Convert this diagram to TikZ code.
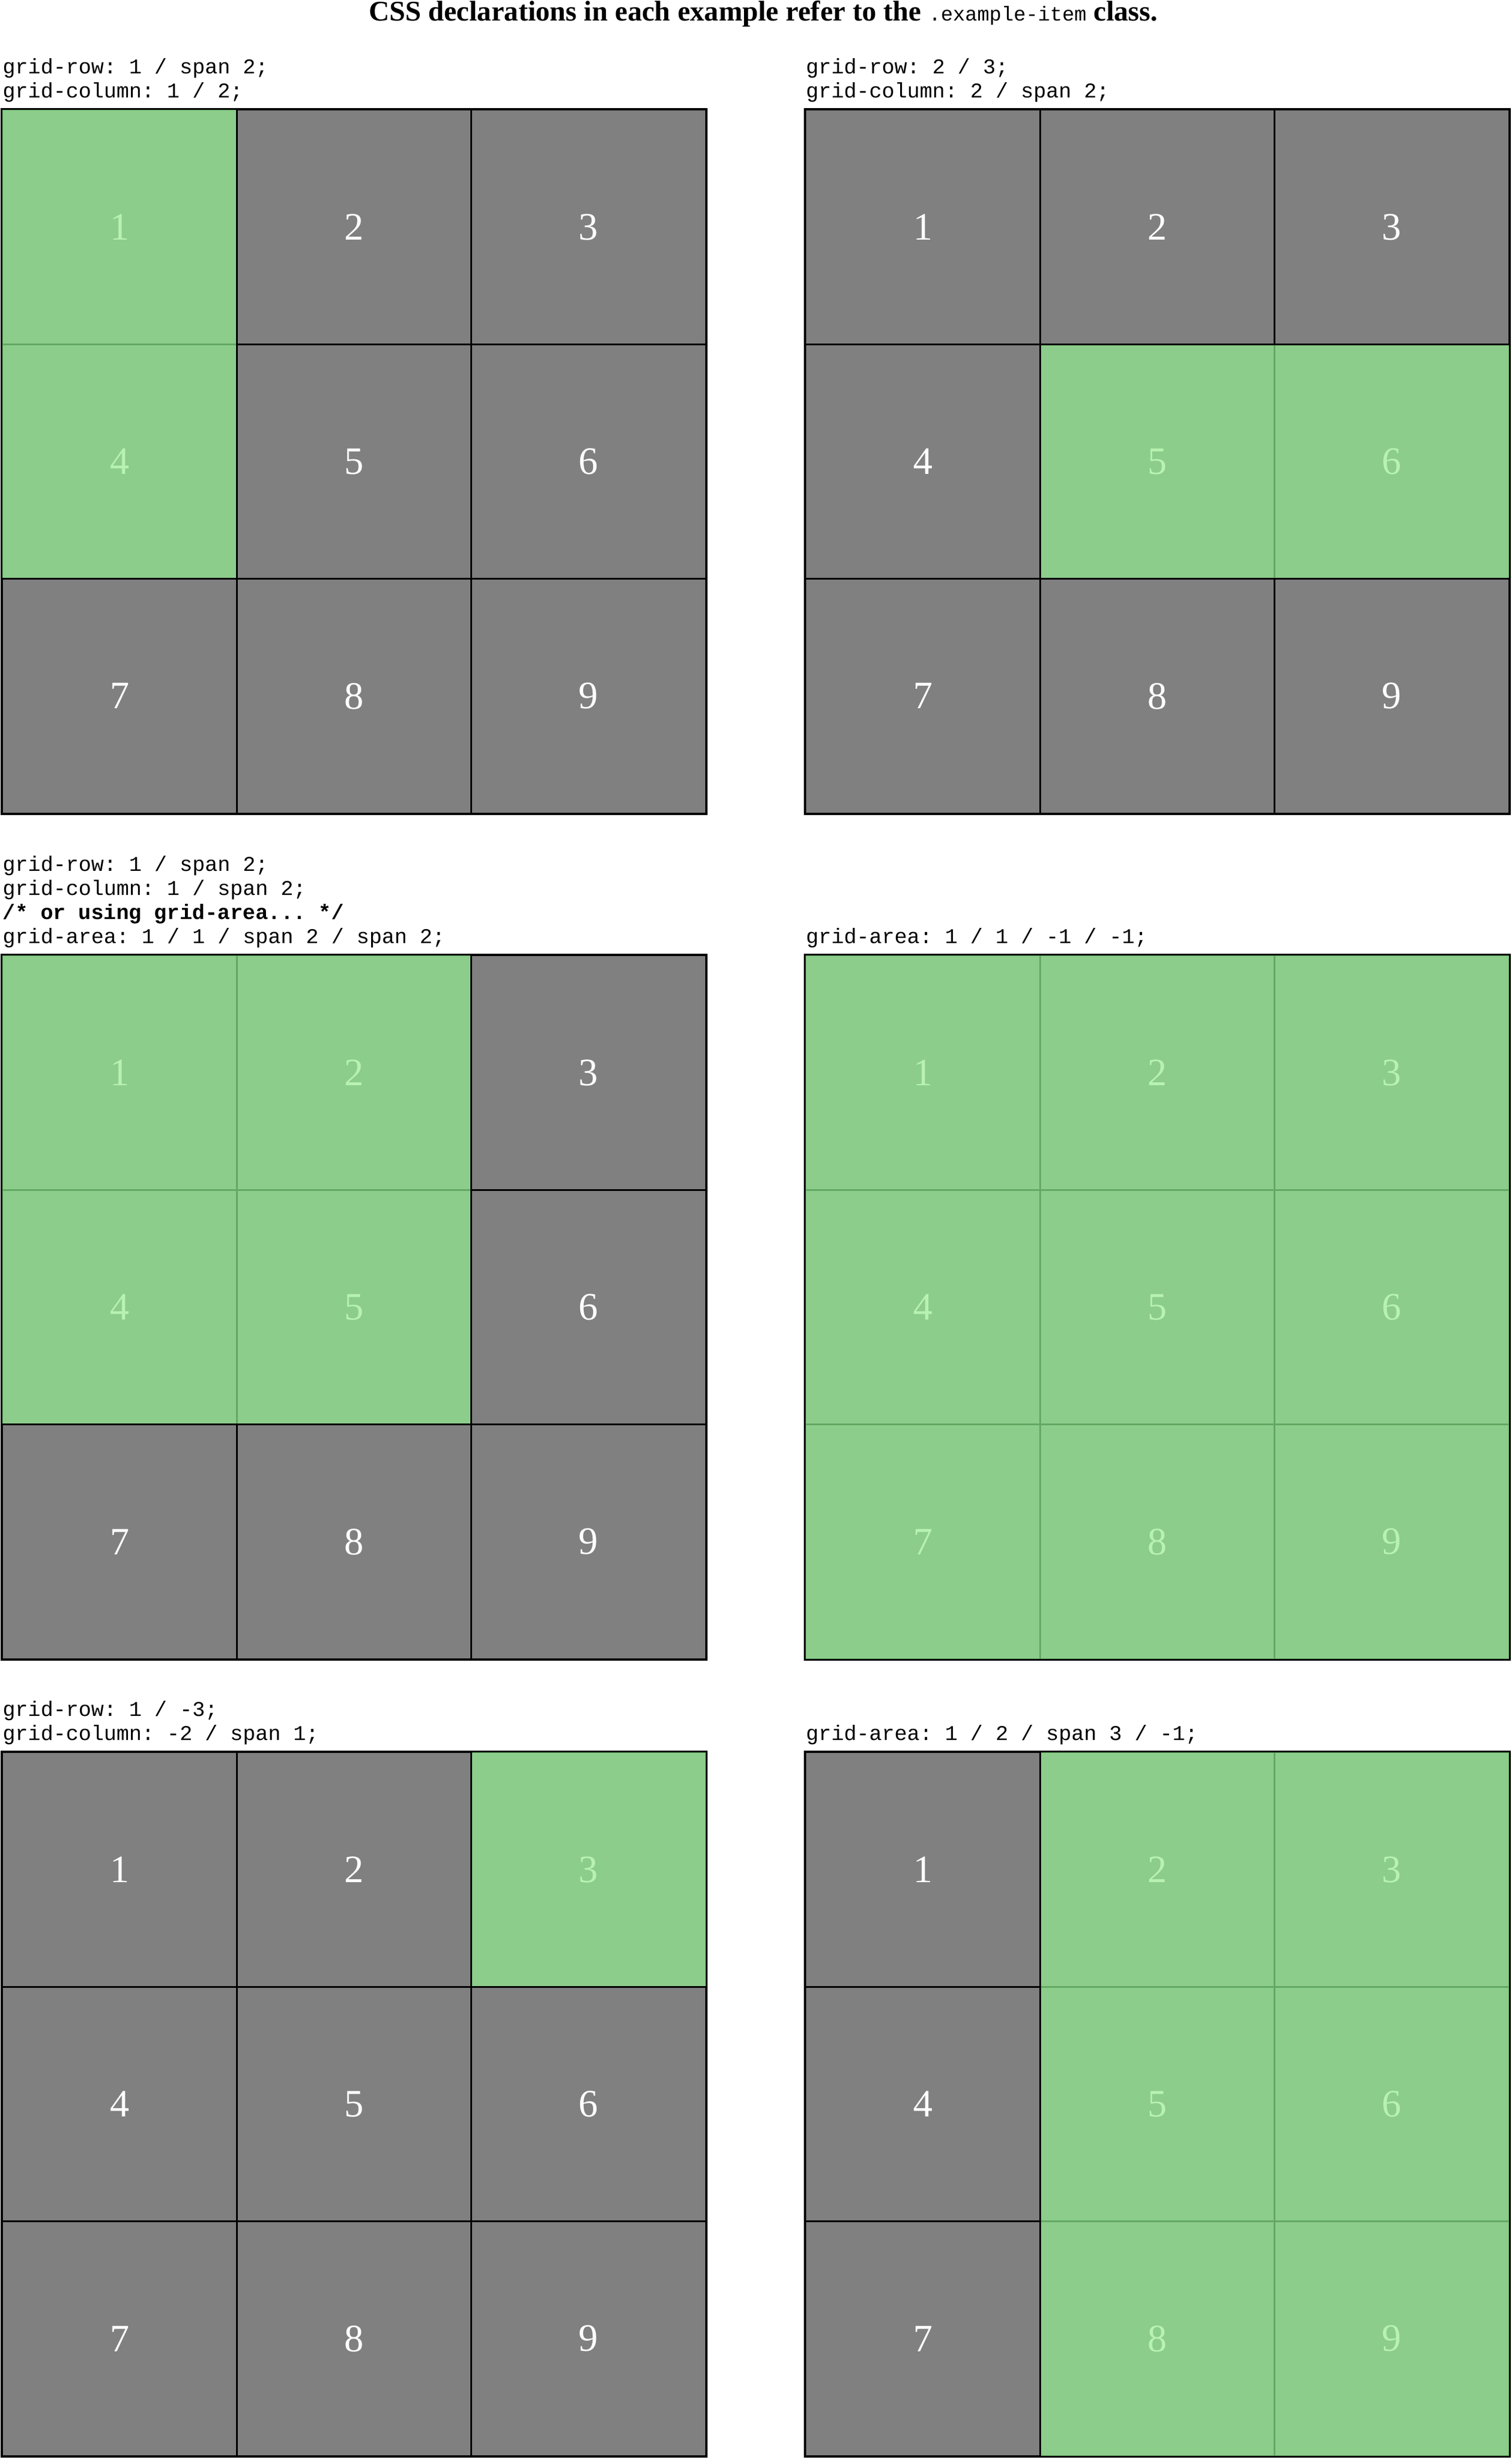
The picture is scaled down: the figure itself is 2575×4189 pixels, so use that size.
\documentclass[tikz,border=0pt]{standalone}
\usepackage{fontspec}
\setmainfont{Liberation Serif}
\setmonofont{Liberation Mono}
\usetikzlibrary{positioning}

\definecolor{itemgrey}{HTML}{808080}
\definecolor{itemgreen}{HTML}{8CCD8B}
\definecolor{itemedge}{HTML}{62A862}
\definecolor{itemtext}{HTML}{B8F2B0}

\newcommand{\cellw}{399.33}

\tikzstyle{cell} = [rectangle, minimum width=3.9933cm, minimum height=3.9933cm, inner sep=0pt, text centered, font=\fontsize{18.8pt}{20pt}\selectfont, line width=0.85pt]
\tikzstyle{greycell} = [cell, fill=itemgrey, draw=black, text=white]
\tikzstyle{greencell} = [cell, fill=itemgreen, draw=itemedge, text=itemtext]
\tikzstyle{code} = [anchor=south west, inner sep=0pt, align=left, text depth=0pt, font=\ttfamily\fontsize{10.2pt}{11.67pt}\selectfont]
\tikzstyle{frame} = [draw=black, line width=0.85pt]

\begin{document}
\begin{tikzpicture}[x=0.01cm, y=-0.01cm]
		\useasboundingbox (0,0) rectangle (2575,4189);
		% Title
		\node (title) [anchor=base, font=\bfseries\fontsize{13.8pt}{16pt}\selectfont] at (1300, 35) {CSS declarations in each example refer to the {\normalfont\ttfamily\fontsize{9.8pt}{11pt}\selectfont .example-item} class.};
		% Code
		\node (codeA) [code] at (4, 167) {grid-row: 1 / span 2;\\grid-column: 1 / 2;};
		\node (codeB) [code] at (1372, 167) {grid-row: 2 / 3;\\grid-column: 2 / span 2;};
		\node (codeC) [code] at (4, 1607) {grid-row: 1 / span 2;\\grid-column: 1 / span 2;\\{\bfseries /* or using grid-area... */}\\grid-area: 1 / 1 / span 2 / span 2;};
		\node (codeD) [code] at (1372, 1607) {grid-area: 1 / 1 / -1 / -1;};
		\node (codeE) [code] at (4, 2964) {grid-row: 1 / -3;\\grid-column: -2 / span 1;};
		\node (codeF) [code] at (1372, 2964) {grid-area: 1 / 2 / span 3 / -1;};
		% Grid A
		\foreach \n/\cc/\rr in {1/0/0, 4/0/1}
			\node (A\n) [greencell] at ({4+(\cc+0.5)*\cellw}, {187+(\rr+0.5)*\cellw}) {\n};
		\foreach \n/\cc/\rr in {2/1/0, 3/2/0, 5/1/1, 6/2/1, 7/0/2, 8/1/2, 9/2/2}
			\node (A\n) [greycell] at ({4+(\cc+0.5)*\cellw}, {187+(\rr+0.5)*\cellw}) {\n};
		\draw [frame] (A1.north west) rectangle (A9.south east);
		% Grid B
		\foreach \n/\cc/\rr in {5/1/1, 6/2/1}
			\node (B\n) [greencell] at ({1372+(\cc+0.5)*\cellw}, {187+(\rr+0.5)*\cellw}) {\n};
		\foreach \n/\cc/\rr in {1/0/0, 2/1/0, 3/2/0, 4/0/1, 7/0/2, 8/1/2, 9/2/2}
			\node (B\n) [greycell] at ({1372+(\cc+0.5)*\cellw}, {187+(\rr+0.5)*\cellw}) {\n};
		\draw [frame] (B1.north west) rectangle (B9.south east);
		% Grid C
		\foreach \n/\cc/\rr in {1/0/0, 2/1/0, 4/0/1, 5/1/1}
			\node (C\n) [greencell] at ({4+(\cc+0.5)*\cellw}, {1627+(\rr+0.5)*\cellw}) {\n};
		\foreach \n/\cc/\rr in {3/2/0, 6/2/1, 7/0/2, 8/1/2, 9/2/2}
			\node (C\n) [greycell] at ({4+(\cc+0.5)*\cellw}, {1627+(\rr+0.5)*\cellw}) {\n};
		\draw [frame] (C1.north west) rectangle (C9.south east);
		% Grid D
		\foreach \n/\cc/\rr in {1/0/0, 2/1/0, 3/2/0, 4/0/1, 5/1/1, 6/2/1, 7/0/2, 8/1/2, 9/2/2}
			\node (D\n) [greencell] at ({1372+(\cc+0.5)*\cellw}, {1627+(\rr+0.5)*\cellw}) {\n};
		\draw [frame] (D1.north west) rectangle (D9.south east);
		% Grid E
		\foreach \n/\cc/\rr in {3/2/0}
			\node (E\n) [greencell] at ({4+(\cc+0.5)*\cellw}, {2984+(\rr+0.5)*\cellw}) {\n};
		\foreach \n/\cc/\rr in {1/0/0, 2/1/0, 4/0/1, 5/1/1, 6/2/1, 7/0/2, 8/1/2, 9/2/2}
			\node (E\n) [greycell] at ({4+(\cc+0.5)*\cellw}, {2984+(\rr+0.5)*\cellw}) {\n};
		\draw [frame] (E1.north west) rectangle (E9.south east);
		% Grid F
		\foreach \n/\cc/\rr in {2/1/0, 3/2/0, 5/1/1, 6/2/1, 8/1/2, 9/2/2}
			\node (F\n) [greencell] at ({1372+(\cc+0.5)*\cellw}, {2984+(\rr+0.5)*\cellw}) {\n};
		\foreach \n/\cc/\rr in {1/0/0, 4/0/1, 7/0/2}
			\node (F\n) [greycell] at ({1372+(\cc+0.5)*\cellw}, {2984+(\rr+0.5)*\cellw}) {\n};
		\draw [frame] (F1.north west) rectangle (F9.south east);
	\end{tikzpicture}
\end{document}
